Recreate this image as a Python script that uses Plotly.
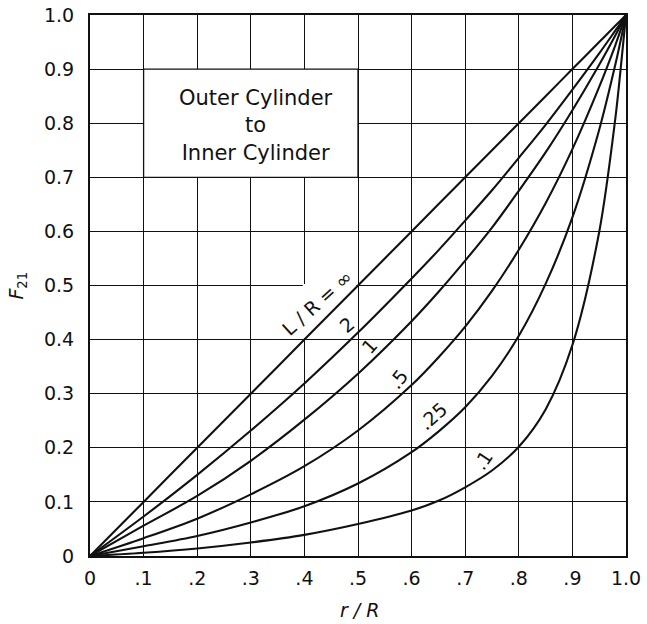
import plotly.graph_objects as go

# ---- data ----
r_over_R = [0, 0.1, 0.2, 0.3, 0.4, 0.5, 0.6, 0.65, 0.7, 0.75, 0.8, 0.85, 0.9, 0.95, 0.98, 0.99, 1.0]
F_inf = [0, 0.1, 0.2, 0.3, 0.4, 0.5, 0.6, 0.65, 0.7, 0.75, 0.8, 0.85, 0.9, 0.95, 0.98, 0.99, 1.0]
F_2 = [0, 0.073, 0.150, 0.232, 0.319, 0.413, 0.513, 0.565, 0.620, 0.676, 0.736, 0.797, 0.862, 0.929, 0.971, 0.985, 1.0]
F_1 = [0, 0.056, 0.111, 0.176, 0.252, 0.337, 0.434, 0.488, 0.546, 0.607, 0.675, 0.746, 0.824, 0.908, 0.962, 0.981, 1.0]
F_05 = [0, 0.033, 0.069, 0.114, 0.166, 0.232, 0.316, 0.367, 0.424, 0.490, 0.566, 0.652, 0.752, 0.867, 0.944, 0.972, 1.0]
F_025 = [0, 0.018, 0.037, 0.062, 0.092, 0.134, 0.192, 0.230, 0.275, 0.333, 0.407, 0.503, 0.626, 0.788, 0.908, 0.953, 1.0]
F_01 = [0, 0.006, 0.014, 0.025, 0.039, 0.059, 0.084, 0.102, 0.127, 0.158, 0.202, 0.271, 0.390, 0.599, 0.808, 0.900, 1.0]

curve_names = ["L / R = ∞", "2", "1", ".5", ".25", ".1"]
series = [F_inf, F_2, F_1, F_05, F_025, F_01]

x_tick_vals = [0, 0.1, 0.2, 0.3, 0.4, 0.5, 0.6, 0.7, 0.8, 0.9, 1.0]
x_tick_text = ["0", ".1", ".2", ".3", ".4", ".5", ".6", ".7", ".8", ".9", "1.0"]
y_tick_vals = [0, 0.1, 0.2, 0.3, 0.4, 0.5, 0.6, 0.7, 0.8, 0.9, 1.0]
y_tick_text = ["0", "0.1", "0.2", "0.3", "0.4", "0.5", "0.6", "0.7", "0.8", "0.9", "1.0"]

# ---- styling / placement ----
FONT = "DejaVu Sans"
INK = "#111111"

fig = go.Figure()
for name, ys in zip(curve_names, series):
    fig.add_trace(go.Scatter(
        x=r_over_R, y=ys, mode="lines", name=name,
        line=dict(color=INK, width=2.1, shape="spline", smoothing=0.9),
        showlegend=False, hoverinfo="skip",
    ))

# curve labels (positions in data coords, angle along curve)
label_pos = [
    (0.423, 0.468, -42),
    (0.479, 0.427, -40),
    (0.521, 0.389, -48),
    (0.575, 0.327, -52),
    (0.640, 0.258, -42),
    (0.733, 0.177, -56),
]
for text, (lx, ly, ang) in zip(curve_names, label_pos):
    fig.add_annotation(x=lx, y=ly, text=text, showarrow=False, textangle=ang,
                       xanchor="center", yanchor="middle",
                       font=dict(family=FONT, size=19, color=INK))

# box text
fig.add_annotation(x=0.31, y=0.795, text="Outer Cylinder<br>to<br>Inner Cylinder",
                   showarrow=False, align="center", xanchor="center", yanchor="middle",
                   font=dict(family=FONT, size=21, color=INK))

# white panels that hide the grid behind the box text and the L/R label
fig.add_shape(type="rect", x0=0.1, x1=0.5, y0=0.7, y1=0.9, layer="between",
              fillcolor="white", line=dict(color=INK, width=1.3))
fig.add_shape(type="rect", x0=0.397, x1=0.497, y0=0.403, y1=0.503, layer="between",
              fillcolor="white", line=dict(width=0))

# axis titles
fig.add_annotation(xref="paper", yref="paper", x=-0.136, y=0.5,
                   xanchor="center", yanchor="middle",
                   text="<i>F</i><sub>21</sub>", showarrow=False, textangle=-90,
                   font=dict(family=FONT, size=19, color=INK))
fig.add_annotation(xref="paper", yref="paper", x=0.504, y=-0.1,
                   xanchor="center", yanchor="middle",
                   text="<i>r / R</i>", showarrow=False,
                   font=dict(family=FONT, size=19, color=INK))

axis_common = dict(
    range=[0, 1], showgrid=True, gridcolor=INK, gridwidth=1.3, automargin=False,
    zeroline=False, showline=True, mirror=True, linecolor=INK, linewidth=2.2,
    ticks="", tickfont=dict(family=FONT, size=19, color=INK),
)
fig.update_xaxes(tickvals=x_tick_vals, ticktext=x_tick_text, ticklabelstandoff=4, **axis_common)
fig.update_yaxes(tickvals=y_tick_vals, ticktext=y_tick_text, ticklabelstandoff=10, **axis_common)

fig.update_layout(
    width=647, height=624,
    margin=dict(l=90, r=21, t=15, b=68, autoexpand=False),
    paper_bgcolor="white", plot_bgcolor="white",
)

fig.write_html(
    "out.html",
    config={"displayModeBar": False},
    post_script="document.body.style.margin='0';document.body.style.overflow='hidden';",
)
